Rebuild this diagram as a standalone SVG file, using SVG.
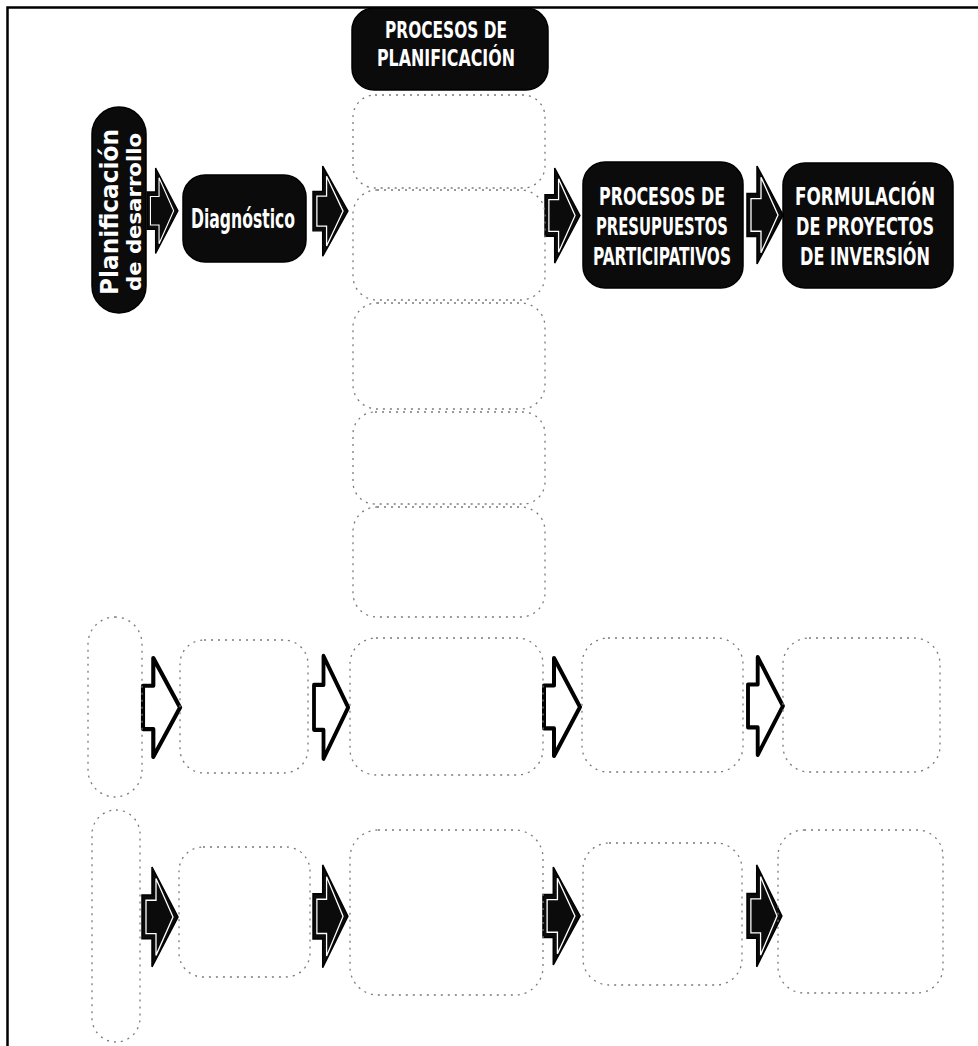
<svg xmlns="http://www.w3.org/2000/svg" xmlns:xlink="http://www.w3.org/1999/xlink" width="978" height="1046" viewBox="0 0 978 1046">
<style>
.dark{fill:#0b0b0b;stroke:#000;stroke-width:1.5}
.lbl{fill:#fff;font-family:"DejaVu Sans Condensed","Liberation Sans Narrow","Liberation Sans",sans-serif;font-weight:bold;text-anchor:middle}
.faint{fill:none;stroke:#7a7a7a;stroke-width:1.3;stroke-dasharray:2 5}
.adark{fill:#0b0b0b;stroke:#000;stroke-width:1.5}
.ainner{fill:none;stroke:#fff;stroke-width:1.3}
.aout{fill:#fff;stroke:#000;stroke-width:4;stroke-linejoin:round}
</style>
<defs>
<path id="ar" d="M0,27 L10,27 L10,0 L36,48 L10,96 L10,69 L0,69 Z"/>
<path id="arIn" d="M4,32 L14,32 L14,11 L31,48 L14,85 L14,64 L4,64 Z"/>
</defs>
<rect width="978" height="1046" fill="#fff"/>
<path d="M7.5,1046 L7.5,7.5 L978,7.5" fill="none" stroke="#000" stroke-width="2.5"/>

<g id="connectors">
  <g transform="translate(147,168) scale(0.86,0.89)"><use href="#ar" class="adark"/><use href="#arIn" class="ainner"/></g>
  <g transform="translate(313,166) scale(0.97,0.94)"><use href="#ar" class="adark"/><use href="#arIn" class="ainner"/></g>
  <g transform="translate(545,168) scale(0.97,0.99)"><use href="#ar" class="adark"/><use href="#arIn" class="ainner"/></g>
  <g transform="translate(747,166) scale(1,1.02)"><use href="#ar" class="adark"/><use href="#arIn" class="ainner"/></g>

  <g transform="translate(143,658) scale(1.03,1.03)"><use href="#ar" class="aout"/></g>
  <g transform="translate(314,656) scale(0.95,1.07)"><use href="#ar" class="aout"/></g>
  <g transform="translate(544,658) scale(1,1.02)"><use href="#ar" class="aout"/></g>
  <g transform="translate(748,657) scale(0.97,1.02)"><use href="#ar" class="aout"/></g>

  <g transform="translate(142,867) scale(1,1.04)"><use href="#ar" class="adark"/><use href="#arIn" class="ainner"/></g>
  <g transform="translate(313,865) scale(0.97,1.07)"><use href="#ar" class="adark"/><use href="#arIn" class="ainner"/></g>
  <g transform="translate(543,867) scale(1.03,1.02)"><use href="#ar" class="adark"/><use href="#arIn" class="ainner"/></g>
  <g transform="translate(747,865) scale(0.97,1.06)"><use href="#ar" class="adark"/><use href="#arIn" class="ainner"/></g>
</g>

<g id="header">
  <rect class="dark" x="352" y="8" width="196" height="82" rx="22"/>
  <text class="lbl" transform="translate(446,38) scale(1,1.35)" font-size="17" textLength="122" lengthAdjust="spacingAndGlyphs">PROCESOS DE</text>
  <text class="lbl" transform="translate(446,66) scale(1,1.35)" font-size="17" textLength="138" lengthAdjust="spacingAndGlyphs">PLANIFICACIÓN</text>
</g>

<g id="planificacion">
  <rect class="dark" x="92" y="107" width="54" height="206" rx="27"/>
  <text class="lbl" transform="translate(118,212) rotate(-90)" font-size="24" textLength="166" lengthAdjust="spacingAndGlyphs">Planificación</text>
  <text class="lbl" transform="translate(141,212) rotate(-90)" font-size="20" textLength="158" lengthAdjust="spacingAndGlyphs">de desarrollo</text>
</g>

<g id="diagnostico">
  <rect class="dark" x="183" y="175" width="123" height="87" rx="22"/>
  <text class="lbl" transform="translate(243,228) scale(1,1.55)" font-size="17" textLength="104" lengthAdjust="spacingAndGlyphs">Diagnóstico</text>
</g>

<g id="plan-col">
  <rect class="faint" x="353" y="95" width="192" height="93" rx="22"/>
  <rect class="faint" x="353" y="190" width="192" height="110" rx="24"/>
  <rect class="faint" x="353" y="303" width="192" height="106" rx="24"/>
  <rect class="faint" x="353" y="412" width="192" height="92" rx="22"/>
  <rect class="faint" x="353" y="507" width="192" height="110" rx="24"/>
</g>

<g id="presupuestos">
  <rect class="dark" x="583" y="162" width="160" height="126" rx="22"/>
  <text class="lbl" transform="translate(662,205) scale(1,1.5)" font-size="17" textLength="126" lengthAdjust="spacingAndGlyphs">PROCESOS DE</text>
  <text class="lbl" transform="translate(662,235) scale(1,1.5)" font-size="17" textLength="132" lengthAdjust="spacingAndGlyphs">PRESUPUESTOS</text>
  <text class="lbl" transform="translate(662,265) scale(1,1.5)" font-size="17" textLength="138" lengthAdjust="spacingAndGlyphs">PARTICIPATIVOS</text>
</g>

<g id="formulacion">
  <rect class="dark" x="783" y="163" width="170" height="125" rx="22"/>
  <text class="lbl" transform="translate(865,205) scale(1,1.5)" font-size="17" textLength="140" lengthAdjust="spacingAndGlyphs">FORMULACIÓN</text>
  <text class="lbl" transform="translate(865,235) scale(1,1.5)" font-size="17" textLength="138" lengthAdjust="spacingAndGlyphs">DE PROYECTOS</text>
  <text class="lbl" transform="translate(865,265) scale(1,1.5)" font-size="17" textLength="130" lengthAdjust="spacingAndGlyphs">DE INVERSIÓN</text>
</g>

<g id="row2">
  <rect class="faint" x="88" y="617" width="54" height="180" rx="27"/>
  <rect class="faint" x="180" y="640" width="128" height="133" rx="24"/>
  <rect class="faint" x="350" y="638" width="193" height="137" rx="26"/>
  <rect class="faint" x="582" y="638" width="161" height="134" rx="26"/>
  <rect class="faint" x="783" y="638" width="157" height="134" rx="26"/>
</g>

<g id="row3">
  <rect class="faint" x="92" y="810" width="48" height="232" rx="24"/>
  <rect class="faint" x="179" y="847" width="131" height="130" rx="24"/>
  <rect class="faint" x="350" y="830" width="193" height="165" rx="28"/>
  <rect class="faint" x="583" y="843" width="159" height="142" rx="26"/>
  <rect class="faint" x="778" y="830" width="165" height="163" rx="26"/>
</g>
</svg>
